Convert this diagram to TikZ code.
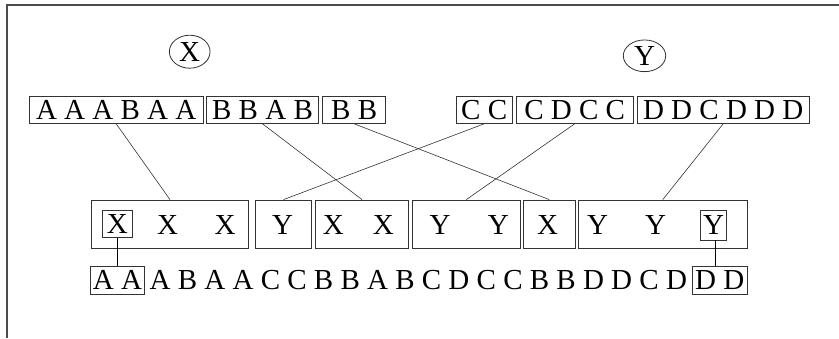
\documentclass[tikz,border=0pt]{standalone}
\usepackage{fontspec}
\setmainfont{Liberation Serif}
\usetikzlibrary{shapes.geometric}
\begin{document}
\begin{tikzpicture}[x=1pt,y=-1pt,
  lt/.style={font=\fontsize{29}{29}\selectfont, text height=19.3pt, text depth=0pt, inner sep=0pt},
  topbox/.style={lt, draw=black!80, line width=0.9pt, minimum height=26.7pt},
  midbox/.style={draw=black!80, line width=0.9pt, minimum height=48.3pt, inner sep=0pt},
  inbox/.style={lt, draw=black!80, line width=0.9pt},
  lbl/.style={lt, draw=black!80, line width=0.8pt, ellipse, inner sep=0pt},
  conn/.style={draw=black!80, line width=0.6pt},
  vconn/.style={draw=black, line width=0.9pt}]
\useasboundingbox (0,0) rectangle (839,338);
\draw[black!70, line width=1.6pt] (7,338) -- (7,5) -- (839,5);

% labels
\node[lbl, minimum width=40.7pt, minimum height=33pt] (lx) at (189.7,51.7) {X};
\node[lbl, minimum width=42.4pt, minimum height=31.7pt] (ly) at (644.5,55.8) {Y};

% top boxes
\node[topbox, minimum width=173.7pt] (t1) at (116.2,110) {A A A B A A};
\node[topbox, minimum width=111.6pt] (t2) at (262.5,110) {B B A B};
\node[topbox, minimum width=63pt] (t3) at (354.2,110) {B B};
\node[topbox, minimum width=56.3pt] (t4) at (484.2,110) {C C};
\node[topbox, minimum width=117.3pt] (t5) at (574.7,110) {C D C C};
\node[topbox, minimum width=172.3pt] (t6) at (723.2,110) {D D C D D D};

% middle boxes
\node[midbox, minimum width=156.6pt] (m1) at (170,224.2) {};
\node[midbox, minimum width=56.4pt] (m2) at (283.5,224.2) {};
\node[midbox, minimum width=93.4pt] (m3) at (362,224.2) {};
\node[midbox, minimum width=107.3pt] (m4) at (466.3,224.2) {};
\node[midbox, minimum width=51.3pt] (m5) at (549.3,224.2) {};
\node[midbox, minimum width=169pt] (m6) at (662.8,224.2) {};

% middle letters
\node[inbox, minimum width=29.6pt, minimum height=26.6pt] (ix) at (117.4,224) {X};
\node[lt] (x2) at (167.7,225) {X};
\node[lt] (x3) at (225,225) {X};
\node[lt] (y1) at (282.7,225) {Y};
\node[lt] (x4) at (333.3,225) {X};
\node[lt] (x5) at (383.3,225) {X};
\node[lt] (y2) at (440,225) {Y};
\node[lt] (y3) at (498.3,225) {Y};
\node[lt] (x6) at (547.7,225) {X};
\node[lt] (y4) at (597.7,225) {Y};
\node[lt] (y5) at (655.7,225) {Y};
\node[inbox, minimum width=26pt, minimum height=30pt] (iy) at (713.7,225) {Y};

% bottom row
\node[inbox, minimum width=53.3pt, minimum height=28pt] (aa) at (117.4,280) {A A};
\node[lt] (mid) at (418.3,280) {A B A A C C B B A B C D C C B B D D C D};
\node[inbox, minimum width=55pt, minimum height=28pt] (dd) at (719.8,280) {D D};

% connectors
\draw[conn] (t1.south) -- (m1.north);
\draw[conn] (t2.south) -- (m3.north);
\draw[conn] (t3.south) -- (m5.north);
\draw[conn] (t4.south) -- (m2.north);
\draw[conn] (t5.south) -- (m4.north);
\draw[conn] (t6.south) -- (m6.north);
\draw[vconn] (ix.south) -- (ix.south |- aa.north);
\draw[vconn] ([xshift=2pt]iy.south) -- ([xshift=2pt]iy.south |- dd.north);
\end{tikzpicture}
\end{document}
